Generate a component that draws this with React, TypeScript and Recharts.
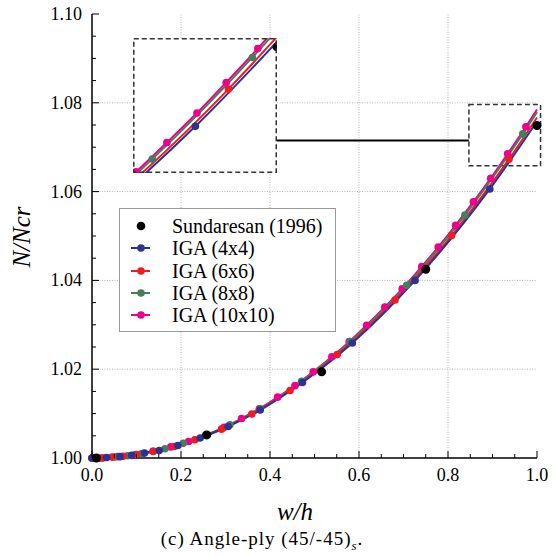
import { ComposedChart, LineChart, Line, XAxis, YAxis, ReferenceLine, ReferenceArea, Legend } from "recharts";

// tick values
const xMajorTicks = [0, 0.2, 0.4, 0.6, 0.8, 1.0];
const xMinorTicks = [0.05, 0.1, 0.15, 0.25, 0.3, 0.35, 0.45, 0.5, 0.55, 0.65, 0.7, 0.75, 0.85, 0.9, 0.95];
const yMajorTicks = [1.0, 1.02, 1.04, 1.06, 1.08, 1.1];
const yMinorTicks = [
  1.005, 1.01, 1.015, 1.025, 1.03, 1.035, 1.045, 1.05, 1.055, 1.065, 1.07, 1.075, 1.085, 1.09, 1.095,
];
const xGrid = [0.2, 0.4, 0.6, 0.8];
const yGrid = [1.02, 1.04, 1.06, 1.08];

// Sundaresan (1996)
const sundW = [0.01, 0.258, 0.516, 0.75, 1.0];
const sundN = [1.0, 1.0052, 1.0194, 1.0425, 1.0749];

// IGA (4x4)
const iga4W = [0, 0.033, 0.063, 0.089, 0.118, 0.151, 0.193, 0.243, 0.306, 0.378, 0.473, 0.585, 0.726, 0.894, 1.0];
const iga4N = [1.0, 1.0001, 1.0003, 1.0006, 1.0011, 1.0017, 1.0028, 1.0045, 1.0071, 1.0108, 1.017, 1.0259, 1.04, 1.0606, 1.0758];

// IGA (6x6)
const iga6W = [0, 0.022, 0.045, 0.07, 0.1, 0.138, 0.185, 0.231, 0.291, 0.359, 0.445, 0.551, 0.681, 0.808, 0.937, 1.0];
const iga6N = [1.0, 1.0, 1.0002, 1.0004, 1.0008, 1.0015, 1.0026, 1.0041, 1.0065, 1.0099, 1.0152, 1.0233, 1.0356, 1.0501, 1.0673, 1.0767];

// IGA (8x8)
const iga8W = [0, 0.025, 0.05, 0.08, 0.112, 0.164, 0.205, 0.255, 0.31, 0.378, 0.471, 0.58, 0.707, 0.838, 0.968, 1.0];
const iga8N = [1.0, 1.0, 1.0002, 1.0005, 1.001, 1.0021, 1.0033, 1.0051, 1.0075, 1.0111, 1.0173, 1.0262, 1.0389, 1.0547, 1.073, 1.0779];

// IGA (10x10)
const iga10W = [
  0, 0.017, 0.057, 0.097, 0.137, 0.177, 0.217, 0.257, 0.297, 0.336, 0.376, 0.417, 0.456, 0.497, 0.539, 0.578,
  0.617, 0.658, 0.697, 0.741, 0.778, 0.817, 0.857, 0.896, 0.934, 0.975, 1.0,
];
const iga10N = [
  1.0, 1.0, 1.0003, 1.0007, 1.0015, 1.0025, 1.0037, 1.0052, 1.0069, 1.0089, 1.0111, 1.0137, 1.0163, 1.0194,
  1.0228, 1.0262, 1.0299, 1.034, 1.0381, 1.0431, 1.0475, 1.0524, 1.0577, 1.063, 1.0685, 1.0746, 1.0785,
];

const toRows = (w: number[], n: number[]) => w.map((x, i) => ({ w: x, n: n[i] }));

const sund = toRows(sundW, sundN);
const series = [
  { name: "IGA (4x4)", color: "#2e3192", rows: toRows(iga4W, iga4N) },
  { name: "IGA (6x6)", color: "#ed1c24", rows: toRows(iga6W, iga6N) },
  { name: "IGA (8x8)", color: "#4a7c5c", rows: toRows(iga8W, iga8N) },
  { name: "IGA (10x10)", color: "#ec008c", rows: toRows(iga10W, iga10N) },
];
// draw order: pink underneath, blue on top
const drawOrder = [3, 2, 1, 0];

const serif = "'Liberation Serif', 'Times New Roman', serif";
const allX = [...xMajorTicks, ...xMinorTicks].sort((a, b) => a - b);
const allY = [...yMajorTicks, ...yMinorTicks].sort((a, b) => a - b);

function BottomTick(props: any) {
  const { x, y, payload } = props;
  const major = xMajorTicks.includes(payload.value);
  return (
    <g>
      <line x1={x} y1={y} x2={x} y2={y - (major ? 7 : 4)} stroke="#000" />
      {major && (
        <text x={x} y={y + 23} textAnchor="middle" fontFamily={serif} fontSize={18} fill="#000">
          {payload.value.toFixed(1)}
        </text>
      )}
    </g>
  );
}

function TopTick(props: any) {
  const { x, y, payload } = props;
  const major = xMajorTicks.includes(payload.value);
  return <line x1={x} y1={y} x2={x} y2={y + (major ? 7 : 4)} stroke="#000" />;
}

function LeftTick(props: any) {
  const { x, y, payload } = props;
  const major = yMajorTicks.includes(payload.value);
  return (
    <g>
      <line x1={x} y1={y} x2={x + (major ? 7 : 4)} y2={y} stroke="#000" />
      {major && (
        <text x={x - 10} y={y + 6} textAnchor="end" fontFamily={serif} fontSize={18} fill="#000">
          {payload.value.toFixed(2)}
        </text>
      )}
    </g>
  );
}

function RightTick(props: any) {
  const { x, y, payload } = props;
  const major = yMajorTicks.includes(payload.value);
  return <line x1={x} y1={y} x2={x - (major ? 7 : 4)} y2={y} stroke="#000" />;
}

function makeDot(color: string, last: number) {
  return (props: any) => {
    const { cx, cy, index } = props;
    if (index === last || cx == null || cy == null) return <g key={`d${index}`} />;
    return <circle key={`d${index}`} cx={cx} cy={cy} r={3.8} fill={color} stroke="none" />;
  };
}

function LegendBox() {
  return (
    <div
      style={{
        width: 217,
        height: 124,
        boxSizing: "border-box",
        border: "1px solid #9a9a9a",
        background: "#fff",
        paddingTop: 6,
      }}
    >
      <div style={{ display: "flex", alignItems: "center", height: 22.3 }}>
        <svg width={52} height={22}>
          <circle cx={21} cy={11} r={4.3} fill="#000" />
        </svg>
        <span style={{ fontFamily: serif, fontSize: 20, color: "#000", lineHeight: "22px" }}>Sundaresan (1996)</span>
      </div>
      {series.map((s) => (
        <div key={s.name} style={{ display: "flex", alignItems: "center", height: 22.3 }}>
          <svg width={52} height={22}>
            <line x1={11} y1={11} x2={30} y2={11} stroke={s.color} strokeWidth={2} />
            <circle cx={21} cy={11} r={3.8} fill={s.color} />
          </svg>
          <span style={{ fontFamily: serif, fontSize: 20, color: "#000", lineHeight: "22px" }}>{s.name}</span>
        </div>
      ))}
    </div>
  );
}

function Inset() {
  return (
    <div style={{ position: "absolute", left: 133, top: 38, width: 144, height: 135, background: "#fff" }}>
      <LineChart width={144} height={135} margin={{ top: 0, right: 0, bottom: 0, left: 0 }}>
        <XAxis type="number" dataKey="w" domain={[0.813, 1.0]} allowDataOverflow hide />
        <YAxis type="number" dataKey="n" domain={[1.0522, 1.0765]} allowDataOverflow hide />
        {drawOrder.map((k) => {
          const s = series[k];
          return (
            <Line
              key={s.name}
              data={s.rows}
              dataKey="n"
              type="monotone"
              stroke={s.color}
              strokeWidth={2}
              dot={makeDot(s.color, s.rows.length - 1)}
              isAnimationActive={false}
            />
          );
        })}
        <Line
          data={sund}
          dataKey="n"
          stroke="none"
          dot={{ r: 4.5, fill: "#000", stroke: "none" }}
          isAnimationActive={false}
        />
      </LineChart>
      <svg width={144} height={135} style={{ position: "absolute", left: 0, top: 0 }}>
        <rect x={0.75} y={0.75} width={142.5} height={133.5} fill="none" stroke="#333" strokeWidth={1.5} strokeDasharray="5 3" />
      </svg>
    </div>
  );
}

export default function App() {
  return (
    <div style={{ position: "absolute", left: 0, top: 0, width: 555, height: 556, background: "#fff" }}>
      <ComposedChart width={555} height={556} margin={{ top: 14, right: 18, bottom: 0, left: 0 }}>
        <XAxis
          type="number"
          dataKey="w"
          domain={[0, 1]}
          ticks={allX}
          interval={0}
          height={98}
          tickSize={0}
          tickMargin={0}
          tickLine={false}
          tick={BottomTick}
          axisLine={{ stroke: "#000", strokeWidth: 1.5 }}
        />
        <XAxis
          xAxisId="t"
          orientation="top"
          type="number"
          domain={[0, 1]}
          ticks={allX}
          interval={0}
          height={0}
          tickSize={0}
          tickMargin={0}
          tickLine={false}
          tick={TopTick}
          axisLine={{ stroke: "#000", strokeWidth: 1.5 }}
        />
        <YAxis
          type="number"
          dataKey="n"
          domain={[1.0, 1.1]}
          ticks={allY}
          interval={0}
          width={92}
          tickSize={0}
          tickMargin={0}
          tickLine={false}
          tick={LeftTick}
          axisLine={{ stroke: "#000", strokeWidth: 1.5 }}
        />
        <YAxis
          yAxisId="r"
          orientation="right"
          type="number"
          domain={[1.0, 1.1]}
          ticks={allY}
          interval={0}
          width={0}
          tickSize={0}
          tickMargin={0}
          tickLine={false}
          tick={RightTick}
          axisLine={{ stroke: "#000", strokeWidth: 1.5 }}
        />
        {xGrid.map((v) => (
          <ReferenceLine key={`gx${v}`} x={v} stroke="#b4b4b4" strokeDasharray="1 1.5" />
        ))}
        {yGrid.map((v) => (
          <ReferenceLine key={`gy${v}`} y={v} stroke="#b4b4b4" strokeDasharray="1 1.5" />
        ))}
        <ReferenceArea
          x1={0.847}
          x2={1.008}
          y1={1.0658}
          y2={1.0796}
          fill="none"
          fillOpacity={0}
          stroke="#333"
          strokeWidth={1.5}
          strokeDasharray="5 3"
          ifOverflow="visible"
        />
        <ReferenceLine
          segment={[
            { x: 0.4157, y: 1.0715 },
            { x: 0.847, y: 1.0715 },
          ]}
          stroke="#000"
          strokeWidth={2}
          ifOverflow="visible"
        />
        {drawOrder.map((k) => {
          const s = series[k];
          return (
            <Line
              key={s.name}
              data={s.rows}
              dataKey="n"
              type="monotone"
              stroke={s.color}
              strokeWidth={2}
              dot={makeDot(s.color, s.rows.length - 1)}
              isAnimationActive={false}
            />
          );
        })}
        <Line
          data={sund}
          dataKey="n"
          stroke="none"
          dot={{ r: 4.5, fill: "#000", stroke: "none" }}
          isAnimationActive={false}
        />
        <Legend
          layout="vertical"
          align="center"
          verticalAlign="middle"
          content={LegendBox}
          wrapperStyle={{ position: "absolute", left: 119, top: 208, width: 217, height: 124 }}
        />
      </ComposedChart>
      <Inset />
      <div
        style={{
          position: "absolute",
          left: 22,
          top: 237,
          transform: "translate(-50%, -50%) rotate(-90deg)",
          fontFamily: serif,
          fontStyle: "italic",
          fontSize: 25,
          whiteSpace: "nowrap",
        }}
      >
        N/Ncr
      </div>
      <div
        style={{
          position: "absolute",
          left: 295,
          top: 512,
          transform: "translate(-50%, -50%)",
          fontFamily: serif,
          fontStyle: "italic",
          fontSize: 25,
          whiteSpace: "nowrap",
        }}
      >
        w/h
      </div>
      <div
        style={{
          position: "absolute",
          left: 262,
          top: 541,
          transform: "translate(-50%, -50%)",
          fontFamily: serif,
          fontSize: 19,
          letterSpacing: 1,
          whiteSpace: "nowrap",
        }}
      >
        (c) Angle-ply (45/-45)<sub style={{ fontSize: 13, fontStyle: "italic" }}>s</sub>.
      </div>
    </div>
  );
}
